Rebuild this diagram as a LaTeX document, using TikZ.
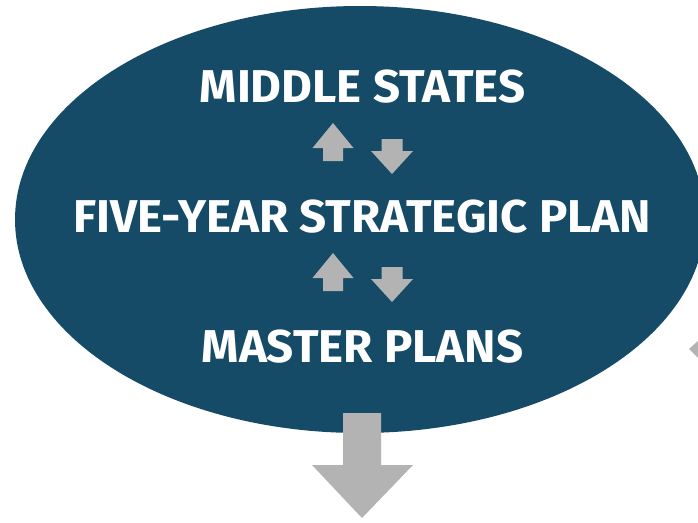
\documentclass[tikz,border=0pt]{standalone}
\usepackage{fontspec}
\setmainfont[FakeStretch=1.03]{Fira Sans}
\usepackage{tikz}
\usetikzlibrary{positioning}

\definecolor{planblue}{RGB}{21,75,103}
\definecolor{arrowgray}{RGB}{179,179,179}

\tikzset{
	planlabel/.style={text=white, inner sep=0pt, anchor=base,
		font=\bfseries\fontsize{46}{46}\selectfont},
	uparrow/.pic={\fill[arrowgray] (0,-25) -- (20.5,0) -- (10,0) -- (10,13)
		-- (-10,13) -- (-10,0) -- (-20.5,0) -- cycle;},
	downarrow/.pic={\fill[arrowgray] (-10.5,-12) -- (10.5,-12) -- (10.5,0) -- (21,0)
		-- (0,23) -- (-21,0) -- (-10.5,0) -- cycle;}
}

\begin{document}
\begin{tikzpicture}[x=1pt, y=-1pt]
			\useasboundingbox (0,0) rectangle (698,522);
			\clip (0,0) rectangle (698,522);
			\fill[planblue] (360,219.5) ellipse [x radius=345, y radius=213.5];
			\node[planlabel] (middle)   at (362.5,102) {MIDDLE STATES};
			\node[planlabel] (fiveyear) at (362.5,232) {FIVE-YEAR STRATEGIC PLAN};
			\node[planlabel] (master)   at (362.5,362) {MASTER PLANS};
			% small arrows between the plans
			\pic at (333,148) {uparrow};
			\pic at (392,151) {downarrow};
			\pic at (333,278) {uparrow};
			\pic at (392,279) {downarrow};
			% big arrow below
			\fill[arrowgray] (343,413) -- (381,413) -- (381,465) -- (413,465)
				-- (362,518) -- (312,465) -- (343,465) -- cycle;
			% edge of the next shape, cut off
			\fill[arrowgray] (689,349) -- (699,340) -- (699,359) -- cycle;
		\end{tikzpicture}
\end{document}
